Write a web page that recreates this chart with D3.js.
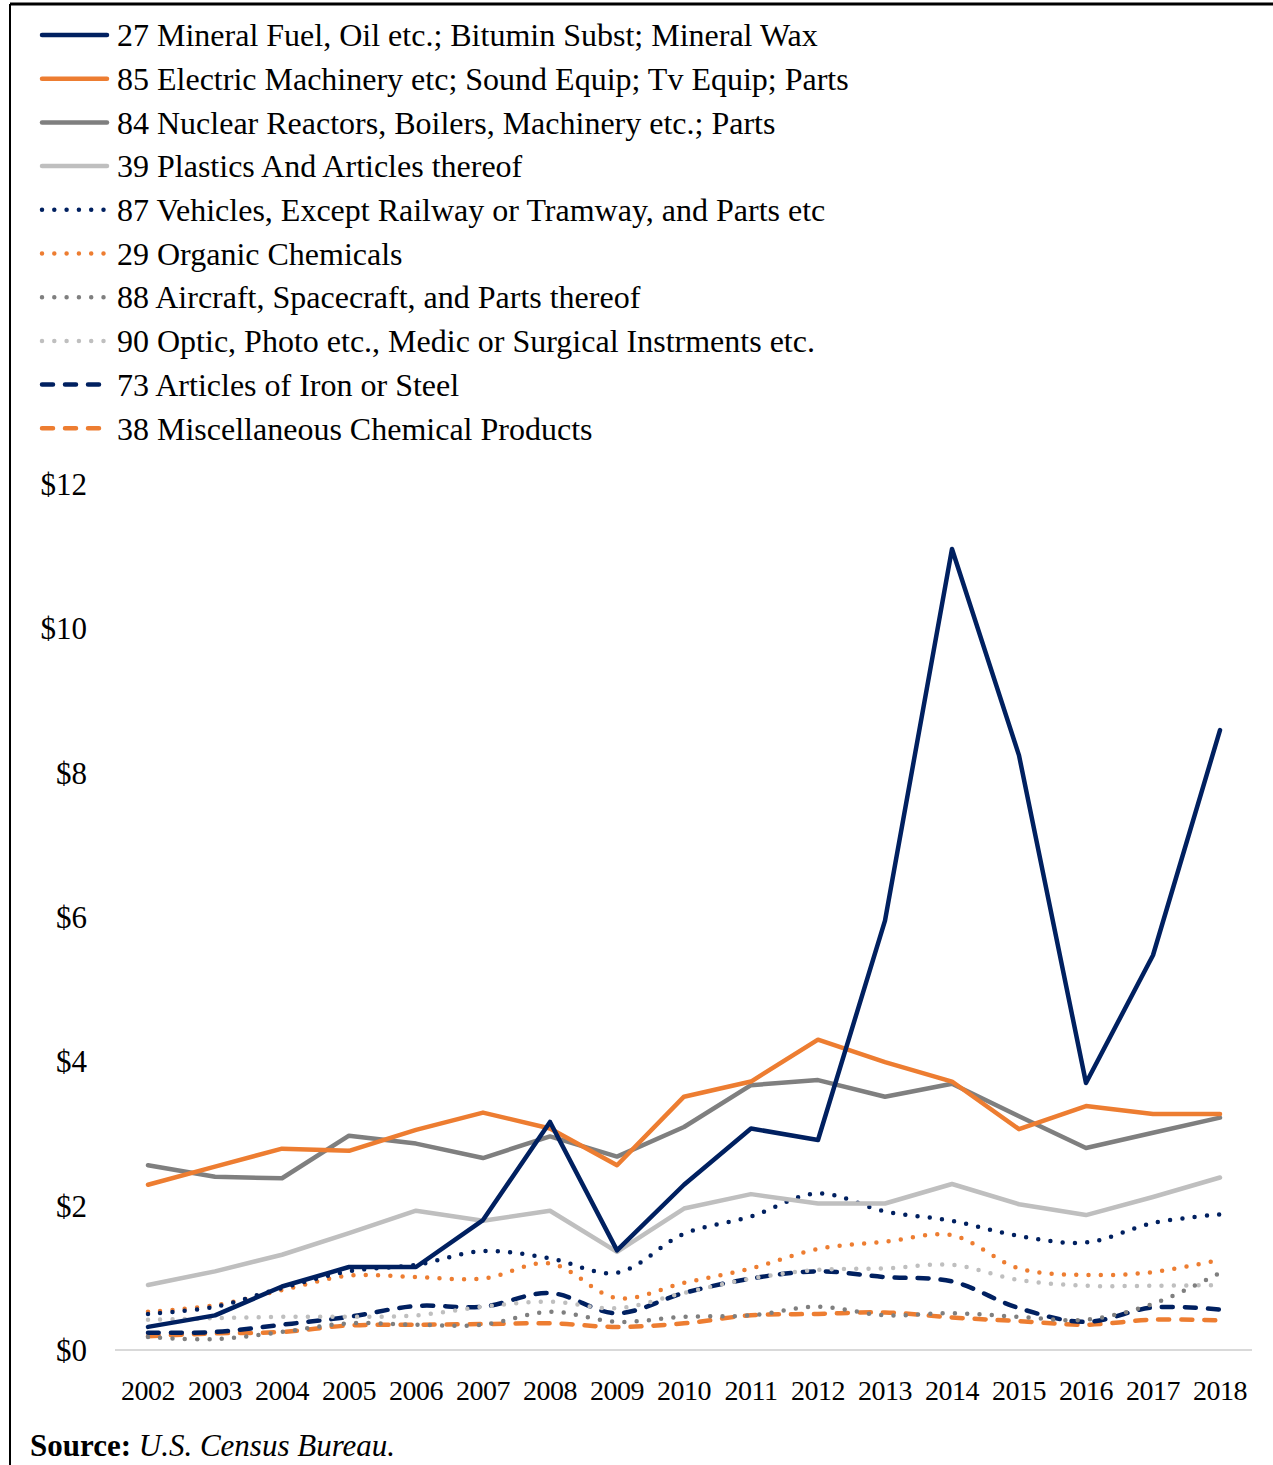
<!DOCTYPE html>
<html>
<head>
<meta charset="utf-8">
<script src="https://cdn.jsdelivr.net/npm/d3@7"></script>
<style>
  body { margin: 0; background: #fff; }
  svg { display: block; font-family: "Liberation Serif", "Times New Roman", serif; }
</style>
</head>
<body>
<div class="js-vis"></div>
<script>
const years = d3.range(2002, 2019)

const names = [
  '27 Mineral Fuel, Oil etc.; Bitumin Subst; Mineral Wax',
  '85 Electric Machinery etc; Sound Equip; Tv Equip; Parts',
  '84 Nuclear Reactors, Boilers, Machinery etc.; Parts',
  '39 Plastics And Articles thereof',
  '87 Vehicles, Except Railway or Tramway, and Parts etc',
  '29 Organic Chemicals',
  '88 Aircraft, Spacecraft, and Parts thereof',
  '90 Optic, Photo etc., Medic or Surgical Instrments etc.',
  '73 Articles of Iron or Steel',
  '38 Miscellaneous Chemical Products'
]

// billions of dollars, 2002..2018
const mineralFuel = [0.32, 0.48, 0.88, 1.15, 1.15, 1.8, 3.16, 1.38, 2.29, 3.07, 2.91, 5.95, 11.1, 8.24, 3.7, 5.47, 8.59]
const electric = [2.29, 2.54, 2.79, 2.76, 3.05, 3.29, 3.07, 2.56, 3.51, 3.72, 4.3, 3.99, 3.72, 3.06, 3.38, 3.27, 3.27]
const nuclear = [2.56, 2.4, 2.38, 2.97, 2.86, 2.66, 2.96, 2.68, 3.09, 3.67, 3.74, 3.51, 3.69, 3.24, 2.8, 3.01, 3.22]
const plastics = [0.9, 1.09, 1.32, 1.62, 1.93, 1.79, 1.93, 1.36, 1.96, 2.16, 2.03, 2.03, 2.3, 2.02, 1.87, 2.12, 2.39]
const vehicles = [0.5, 0.6, 0.86, 1.09, 1.18, 1.37, 1.27, 1.07, 1.61, 1.85, 2.17, 1.92, 1.79, 1.58, 1.49, 1.76, 1.88]
const organic = [0.53, 0.62, 0.83, 1.03, 1.01, 0.99, 1.2, 0.72, 0.93, 1.13, 1.4, 1.5, 1.59, 1.13, 1.04, 1.08, 1.25]
const aircraft = [0.18, 0.15, 0.25, 0.37, 0.35, 0.35, 0.53, 0.39, 0.46, 0.48, 0.6, 0.48, 0.51, 0.46, 0.42, 0.64, 1.07]
const optic = [0.42, 0.44, 0.46, 0.46, 0.48, 0.6, 0.67, 0.58, 0.79, 0.99, 1.11, 1.13, 1.18, 0.97, 0.89, 0.89, 0.9]
const ironSteel = [0.24, 0.25, 0.35, 0.46, 0.61, 0.6, 0.79, 0.51, 0.79, 0.99, 1.09, 1.01, 0.95, 0.58, 0.39, 0.59, 0.56]
const miscChem = [0.19, 0.23, 0.25, 0.34, 0.35, 0.36, 0.37, 0.32, 0.37, 0.48, 0.5, 0.52, 0.45, 0.4, 0.35, 0.42, 0.41]

const yTicks = [0, 2, 4, 6, 8, 10, 12]

const values = [mineralFuel, electric, nuclear, plastics, vehicles, organic, aircraft, optic, ironSteel, miscChem]
const colors = ['#002060', '#ed7d31', '#7f7f7f', '#bfbfbf']
const styles = ['solid', 'solid', 'solid', 'solid', 'dot', 'dot', 'dot', 'dot', 'dash', 'dash']

const series = names.map((n, i) => ({
  name: n,
  color: colors[i % 4],
  style: styles[i],
  values: values[i]
}))

const width = 1273, height = 1465

const svg = d3.select('.js-vis').append('svg')
    .attr('width', width)
    .attr('height', height)

// frame
svg.append('line').attr('x1', 10).attr('x2', 10).attr('y1', 4).attr('y2', height)
    .attr('stroke', '#000').attr('stroke-width', 2)
svg.append('line').attr('x1', 10).attr('x2', width).attr('y1', 4).attr('y2', 4)
    .attr('stroke', '#000').attr('stroke-width', 3)

const x = d3.scalePoint()
    .domain(years)
    .range([148, 1220])

const y = d3.scaleLinear()
    .domain([0, 12])
    .range([1350, 484])

function dashFor(s) {
  if (s === 'dot') return '0 12.3'
  if (s === 'dash') return '11 12'
  return null
}

// y labels
svg.append('g').selectAll('text')
    .data(yTicks)
  .enter().append('text')
    .attr('x', 87)
    .attr('y', d => y(d))
    .attr('dy', '0.35em')
    .attr('text-anchor', 'end')
    .style('font-size', '31px')
    .text(d => '$' + d)

// baseline
svg.append('line')
    .attr('x1', 115).attr('x2', 1252)
    .attr('y1', y(0)).attr('y2', y(0))
    .attr('stroke', '#d9d9d9').attr('stroke-width', 2)

// x labels
svg.append('g').selectAll('text')
    .data(years)
  .enter().append('text')
    .attr('x', d => x(d))
    .attr('y', 1400)
    .attr('text-anchor', 'middle')
    .style('font-size', '28px')
    .style('letter-spacing', '-0.5px')
    .text(String)

const lineStraight = d3.line()
    .x((d, i) => x(years[i]))
    .y(d => y(d))

const lineSmooth = d3.line()
    .x((d, i) => x(years[i]))
    .y(d => y(d))
    .curve(d3.curveCatmullRom.alpha(0.5))

// draw back to front so the first series sits on top
svg.append('g').selectAll('path')
    .data(series.slice().reverse())
  .enter().append('path')
    .attr('d', d => d.style === 'solid' ? lineStraight(d.values) : lineSmooth(d.values))
    .attr('fill', 'none')
    .attr('stroke', d => d.color)
    .attr('stroke-width', 4.5)
    .attr('stroke-linecap', 'round')
    .attr('stroke-linejoin', 'round')
    .attr('stroke-dasharray', d => dashFor(d.style))

// legend
const legend = svg.append('g').selectAll('g')
    .data(series)
  .enter().append('g')
    .attr('transform', (d, i) => 'translate(0,' + (35 + i * 43.7) + ')')

legend.append('line')
    .attr('x1', 42)
    .attr('x2', 107)
    .attr('stroke', d => d.color)
    .attr('stroke-width', 4.5)
    .attr('stroke-linecap', 'round')
    .attr('stroke-dasharray', d => dashFor(d.style))

legend.append('text')
    .attr('x', 117)
    .attr('dy', '0.35em')
    .style('font-size', '32px')
    .text(d => d.name)

// source
const src = svg.append('text')
    .attr('x', 30)
    .attr('y', 1456)
    .style('font-size', '31px')
src.append('tspan').style('font-weight', 'bold').text('Source:')
src.append('tspan').style('font-style', 'italic').text(' U.S. Census Bureau.')
</script>
</body>
</html>
